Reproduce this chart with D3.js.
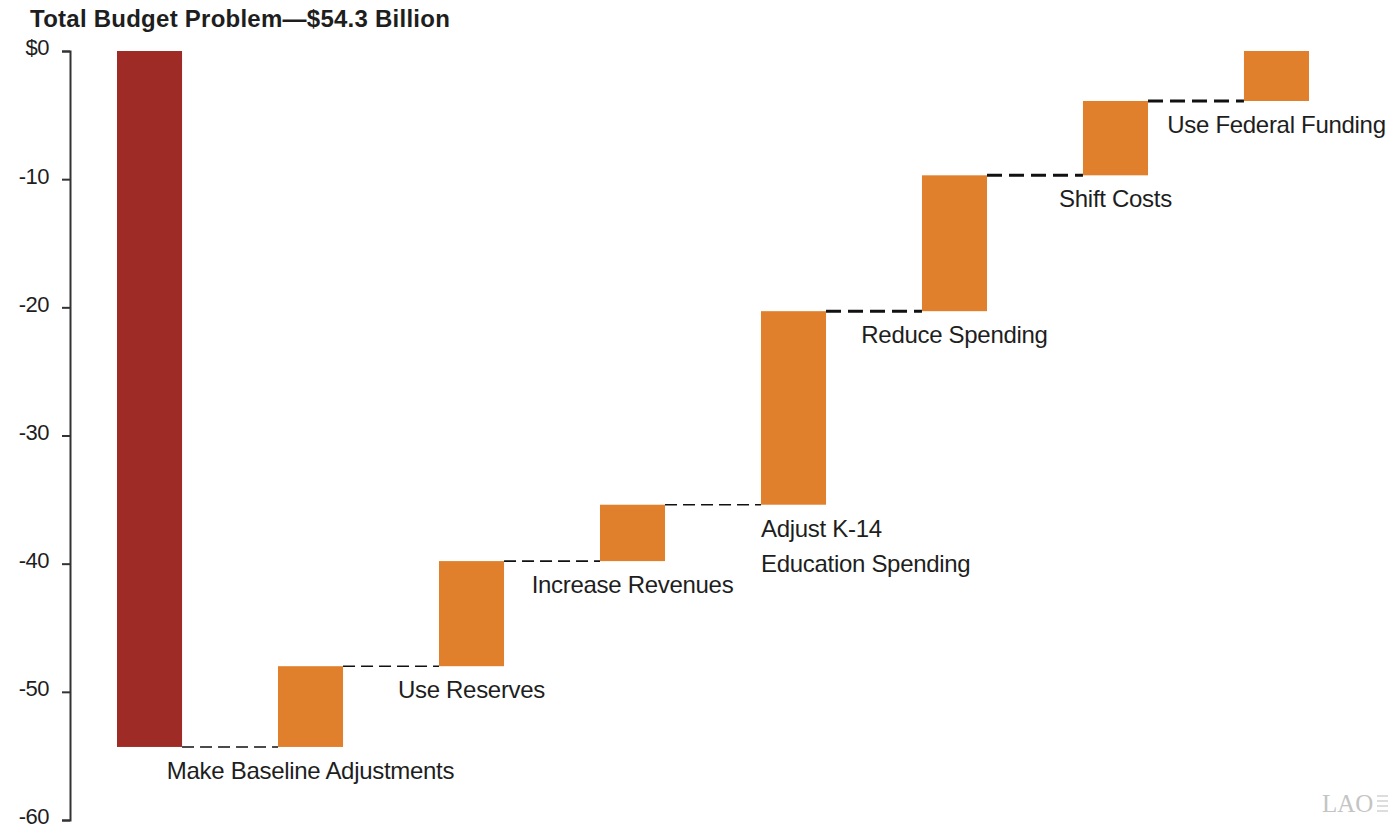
<!DOCTYPE html>
<html>
<head>
<meta charset="utf-8">
<script src="https://cdn.jsdelivr.net/npm/d3@7/dist/d3.min.js"></script>
<style>
  html, body { margin: 0; padding: 0; background: #fff; }
  svg { display: block; }
  text.sans { font-family: "Liberation Sans", Arial, Helvetica, sans-serif; fill: #1e1e1e; }
</style>
</head>
<body>
<svg id="chart" width="1392" height="831"></svg>
<script>
// ---- data ----
const title = "Total Budget Problem\u2014$54.3 Billion";
const totalProblem = -54.3;
const categories = ["Total Budget Problem", "Make Baseline Adjustments", "Use Reserves", "Increase Revenues",
  "Adjust K-14 Education Spending", "Reduce Spending", "Shift Costs", "Use Federal Funding"];
const solutionValues = [6.3, 8.2, 4.4, 15.1, 10.6, 5.8, 3.9];
const labelLines = [
  [],
  ["Make Baseline Adjustments"],
  ["Use Reserves"],
  ["Increase Revenues"],
  ["Adjust K-14", "Education Spending"],
  ["Reduce Spending"],
  ["Shift Costs"],
  ["Use Federal Funding"]
];
const tickValues = [0, -10, -20, -30, -40, -50, -60];
const tickLabels = ["$0", "-10", "-20", "-30", "-40", "-50", "-60"];

// ---- build waterfall rows ----
const rows = [];
rows.push({ cat: categories[0], start: 0, end: totalProblem, total: true });
let cum = totalProblem;
solutionValues.forEach((v, i) => {
  rows.push({ cat: categories[i + 1], start: cum, end: cum + v, total: false });
  cum += v;
});

const svg = d3.select("#chart");
const y = d3.scaleLinear().domain([-60, 0]).range([820, 51]);
const x = d3.scaleBand().domain(categories).range([117, 1309]).paddingInner(0.596).paddingOuter(0);

// title
svg.append("text").attr("class", "sans").attr("x", 30).attr("y", 27)
  .attr("font-size", 24).attr("font-weight", "bold").attr("letter-spacing", 0.25)
  .text(title);

// axis
const axis = d3.axisLeft(y).tickValues(tickValues)
  .tickFormat((d, i) => tickLabels[i]).tickSizeOuter(0).tickSize(8).tickPadding(13);
const gAxis = svg.append("g").attr("transform", "translate(70,0)").call(axis);
gAxis.select(".domain").attr("stroke", "#333").attr("stroke-width", 2);
gAxis.selectAll(".tick line").attr("stroke", "#333").attr("stroke-width", 2);
gAxis.selectAll(".tick text").attr("class", "sans").attr("font-size", 22)
  .attr("letter-spacing", -0.5).attr("dy", "0.18em");

// connectors
for (let i = 0; i < rows.length - 1; i++) {
  const lvl = rows[i].end;
  const thick = i >= 4;
  svg.append("line")
    .attr("x1", x(rows[i].cat) + x.bandwidth())
    .attr("x2", x(rows[i + 1].cat))
    .attr("y1", y(lvl)).attr("y2", y(lvl))
    .attr("stroke", "#111")
    .attr("stroke-width", thick ? 3 : 1.6)
    .attr("stroke-dasharray", thick ? "15,7" : "12,6");
}

// bars
svg.selectAll("rect.bar").data(rows).enter().append("rect")
  .attr("class", "bar")
  .attr("x", d => x(d.cat))
  .attr("width", x.bandwidth())
  .attr("y", d => y(Math.max(d.start, d.end)))
  .attr("height", d => Math.abs(y(d.start) - y(d.end)))
  .attr("fill", d => d.total ? "#9e2b25" : "#e0802c");

// labels
rows.forEach((d, i) => {
  const lines = labelLines[i];
  if (!lines.length) return;
  const bottom = y(Math.min(d.start, d.end));
  const multi = lines.length > 1;
  const t = svg.append("text").attr("class", "sans")
    .attr("font-size", 24).attr("letter-spacing", -0.3)
    .attr("text-anchor", multi ? "start" : "middle");
  lines.forEach((ln, j) => {
    t.append("tspan")
      .attr("x", multi ? x(d.cat) : x(d.cat) + x.bandwidth() / 2)
      .attr("y", bottom + 32 + j * 35)
      .text(ln);
  });
});

// LAO mark
const logo = svg.append("g").attr("transform", "translate(1322,812)");
logo.append("text").attr("x", 0).attr("y", 0)
  .style("font-family", "'Liberation Serif', 'Times New Roman', serif")
  .style("font-size", "25px").style("fill", "#c4c4c4").text("LAO");
[-16, -11, -6, -1].forEach(dy => {
  logo.append("line").attr("x1", 55).attr("x2", 66).attr("y1", dy).attr("y2", dy)
    .attr("stroke", "#d2d2d2").attr("stroke-width", 1.5);
});
</script>
</body>
</html>
